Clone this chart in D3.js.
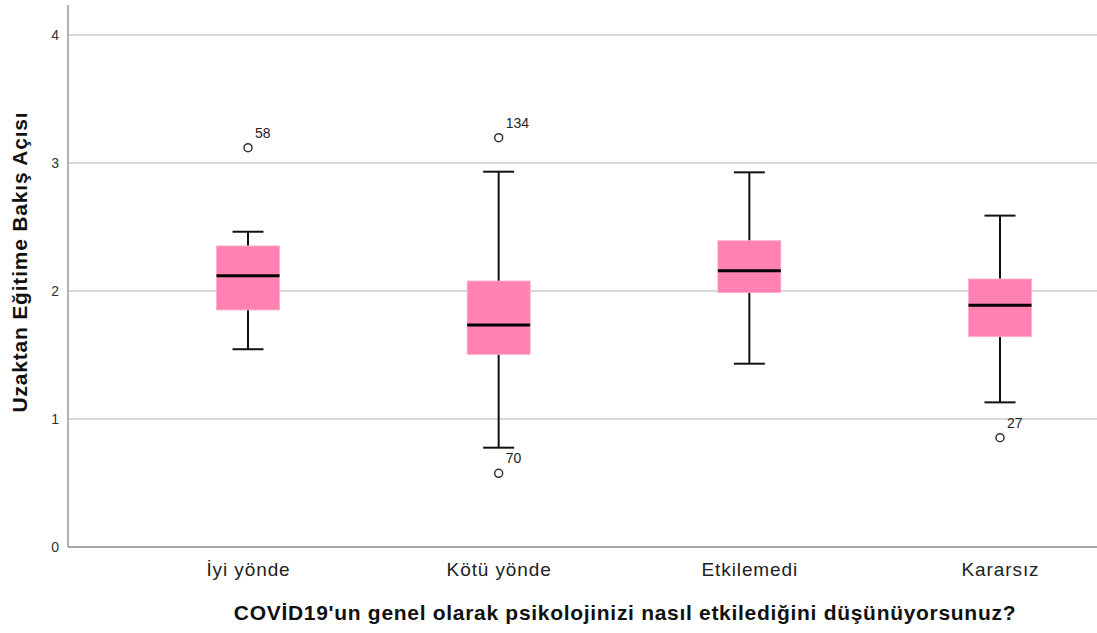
<!DOCTYPE html>
<html><head><meta charset="utf-8">
<script src="https://cdn.jsdelivr.net/npm/d3@7"></script>
<style>body{margin:0;background:#fff;}svg{display:block;font-family:"Liberation Sans",Arial,sans-serif;}</style>
</head><body>
<svg id="c" width="1097" height="633"></svg>
<script>
const categories = ["İyi yönde", "Kötü yönde", "Etkilemedi", "Kararsız"];
const whiskerLow  = [1.545, 0.776, 1.432, 1.130];
const q1          = [1.852, 1.505, 1.987, 1.643];
const median      = [2.120, 1.734, 2.159, 1.888];
const q3          = [2.352, 2.078, 2.393, 2.094];
const whiskerHigh = [2.463, 2.932, 2.927, 2.589];
const outlierCat   = ["İyi yönde", "Kötü yönde", "Kötü yönde", "Kararsız"];
const outlierValue = [3.12, 3.198, 0.576, 0.854];
const outlierLabel = ["58", "134", "70", "27"];
const yTicks = [0, 1, 2, 3, 4];
const yTitle = "Uzaktan Eğitime Bakış Açısı";
const xTitle = "COVİD19'un genel olarak psikolojinizi nasıl etkilediğini düşünüyorsunuz?";

(function () {
const svg = d3.select("#c");
const pL = 68, pR = 1097, pT = 5, pB = 547;
const y = d3.scaleLinear().domain([0, 4]).range([pB, 35]);
const x = d3.scalePoint().domain(categories).range([248, 1000]);
const boxW = 63, capW = 31;
const FONT = "Liberation Sans, Arial, sans-serif";

// grid
svg.append("g").selectAll("line").data(yTicks.filter(d => d > 0)).join("line")
  .attr("x1", pL).attr("x2", pR).attr("y1", d => y(d)).attr("y2", d => y(d))
  .attr("stroke", "#cccccc").attr("stroke-width", 1.5);

// y axis
const ya = svg.append("g").attr("transform", `translate(${pL},0)`)
  .attr("font-size", 14).attr("font-family", FONT)
  .call(d3.axisLeft(y).tickValues(yTicks).tickSize(0).tickPadding(9).tickFormat(d3.format("d")));
ya.select(".domain").remove();
ya.selectAll("text").attr("font-size", 14).attr("fill", "#333").attr("font-family", FONT);
svg.append("line").attr("x1", pL).attr("x2", pL).attr("y1", pT).attr("y2", pB)
  .attr("stroke", "#999").attr("stroke-width", 1.5);

// x axis
const xa = svg.append("g").attr("transform", `translate(0,${pB})`)
  .call(d3.axisBottom(x).tickSize(0).tickPadding(16));
xa.select(".domain").remove();
xa.selectAll("text").attr("font-size", 19).attr("fill", "#222").attr("font-family", FONT)
  .attr("letter-spacing", 0.9);
svg.append("line").attr("x1", pL).attr("x2", pR).attr("y1", pB).attr("y2", pB)
  .attr("stroke", "#888").attr("stroke-width", 1.5);

// boxes
const data = categories.map((c, i) => ({c, lo: whiskerLow[i], q1: q1[i], med: median[i], q3: q3[i], hi: whiskerHigh[i]}));
const g = svg.append("g").selectAll("g").data(data).join("g");
g.append("line").attr("x1", d => x(d.c)).attr("x2", d => x(d.c))
  .attr("y1", d => y(d.hi)).attr("y2", d => y(d.lo)).attr("stroke", "#111").attr("stroke-width", 2);
g.append("line").attr("x1", d => x(d.c) - capW/2).attr("x2", d => x(d.c) + capW/2)
  .attr("y1", d => y(d.hi)).attr("y2", d => y(d.hi)).attr("stroke", "#111").attr("stroke-width", 2);
g.append("line").attr("x1", d => x(d.c) - capW/2).attr("x2", d => x(d.c) + capW/2)
  .attr("y1", d => y(d.lo)).attr("y2", d => y(d.lo)).attr("stroke", "#111").attr("stroke-width", 2);
g.append("rect").attr("x", d => x(d.c) - boxW/2).attr("width", boxW)
  .attr("y", d => y(d.q3)).attr("height", d => y(d.q1) - y(d.q3))
  .attr("fill", "#ff82b3").attr("stroke", "#ffb0cf").attr("stroke-width", 0.8);
g.append("line").attr("x1", d => x(d.c) - boxW/2).attr("x2", d => x(d.c) + boxW/2)
  .attr("y1", d => y(d.med)).attr("y2", d => y(d.med)).attr("stroke", "#000").attr("stroke-width", 3);

// outliers
const outs = outlierCat.map((c, i) => ({c, v: outlierValue[i], l: outlierLabel[i]}));
const og = svg.append("g").selectAll("g").data(outs).join("g");
og.append("circle").attr("cx", d => x(d.c)).attr("cy", d => y(d.v)).attr("r", 4)
  .attr("fill", "#fff").attr("stroke", "#333").attr("stroke-width", 1.5);
og.append("text").attr("x", d => x(d.c) + 7).attr("y", d => y(d.v) - 10)
  .attr("font-size", 14).attr("font-family", FONT).attr("fill", "#222").text(d => d.l);

// titles
svg.append("text").attr("transform", `translate(27,262) rotate(-90)`)
  .attr("text-anchor", "middle").attr("font-size", 21).attr("font-weight", "bold")
  .attr("letter-spacing", 0.8).attr("font-family", FONT).attr("fill", "#111").text(yTitle);
svg.append("text").attr("x", 625).attr("y", 620).attr("text-anchor", "middle")
  .attr("font-size", 21).attr("font-weight", "bold").attr("letter-spacing", 0.7)
  .attr("font-family", FONT).attr("fill", "#111").text(xTitle);
})();
</script>
</body></html>
